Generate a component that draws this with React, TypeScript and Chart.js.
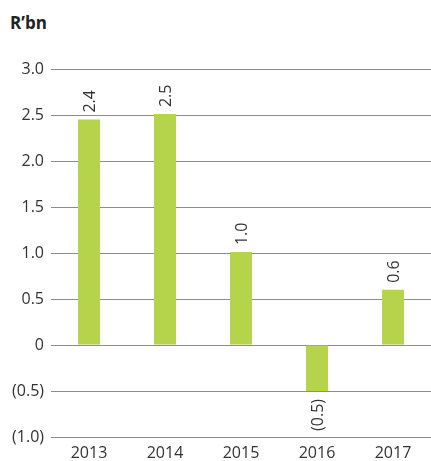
import React, { useEffect, useRef } from "react";
import { Chart, registerables } from "chart.js";

Chart.register(...registerables);

const categories = ["2013", "2014", "2015", "2016", "2017"];
const values = [2.45, 2.51, 1.01, -0.5, 0.6];
const valueLabels = ["2.4", "2.5", "1.0", "(0.5)", "0.6"];
const yTicks = [3.0, 2.5, 2.0, 1.5, 1.0, 0.5, 0, -0.5, -1.0];
const unitTitle = "R\u2019bn";

const FONT = "'Open Sans', 'DejaVu Sans', sans-serif";
const TEXT = "#333333";
const BAR = "#b5d44b";

function fmtTick(v: number): string {
  if (v === 0) return "0";
  if (v < 0) return "(" + Math.abs(v).toFixed(1) + ")";
  return v.toFixed(1);
}

const barLabelPlugin = {
  id: "barLabels",
  afterDatasetsDraw(chart: any) {
    const ctx = chart.ctx;
    const meta = chart.getDatasetMeta(0);
    ctx.save();
    ctx.font = "16px " + FONT;
    ctx.fillStyle = TEXT;
    ctx.textBaseline = "middle";
    meta.data.forEach((bar: any, i: number) => {
      const v = values[i];
      const label = valueLabels[i];
      ctx.save();
      if (v >= 0) {
        ctx.translate(bar.x, bar.y - 7);
        ctx.rotate(-Math.PI / 2);
        ctx.textAlign = "left";
      } else {
        ctx.translate(bar.x, bar.y + 8);
        ctx.rotate(-Math.PI / 2);
        ctx.textAlign = "right";
      }
      ctx.fillText(label, 0, 1);
      ctx.restore();
    });
    ctx.restore();
  },
};

export default function App() {
  const ref = useRef<HTMLCanvasElement | null>(null);
  useEffect(() => {
    if (!ref.current) return;
    const chart = new Chart(ref.current, {
      type: "bar",
      data: {
        labels: categories,
        datasets: [
          {
            data: values,
            backgroundColor: BAR,
            borderWidth: 0,
            barPercentage: 0.29,
            categoryPercentage: 1,
          },
        ],
      },
      options: {
        animation: false,
        responsive: true,
        maintainAspectRatio: false,
        layout: { padding: { top: 69, left: 0, right: 0, bottom: 0 } },
        plugins: {
          legend: { display: false },
          tooltip: { enabled: false },
        },
        scales: {
          x: {
            grid: { display: false },
            border: { display: false },
            ticks: {
              color: TEXT,
              font: { family: FONT, size: 16, lineHeight: 1 },
              padding: 0,
              maxRotation: 0,
            },
            afterFit(scale: any) {
              scale.height = 24;
            },
          },
          y: {
            min: -1.0,
            max: 3.0,
            afterBuildTicks(scale: any) {
              scale.ticks = yTicks.map((v) => ({ value: v }));
            },
            grid: {
              color: "#8c8c8c",
              lineWidth: 1,
              drawTicks: false,
            },
            border: { display: false },
            ticks: {
              color: TEXT,
              font: { family: FONT, size: 16 },
              padding: 7,
              callback: (v: any) => fmtTick(Number(v)),
            },
            afterFit(scale: any) {
              scale.width = 51;
            },
          },
        },
      },
      plugins: [barLabelPlugin],
    });
    return () => chart.destroy();
  }, []);

  return (
    <div style={{ position: "fixed", left: 0, top: 0, width: 431, height: 461, background: "#fff" }}>
      <div
        style={{
          position: "absolute",
          left: 10,
          top: 11,
          fontFamily: FONT,
          fontWeight: 700,
          fontSize: 17,
          color: "#222",
        }}
      >
        {unitTitle}
      </div>
      <canvas ref={ref} style={{ position: "absolute", left: 0, top: 0 }} />
      <div style={{ width: 431, height: 461 }} />
    </div>
  );
}
